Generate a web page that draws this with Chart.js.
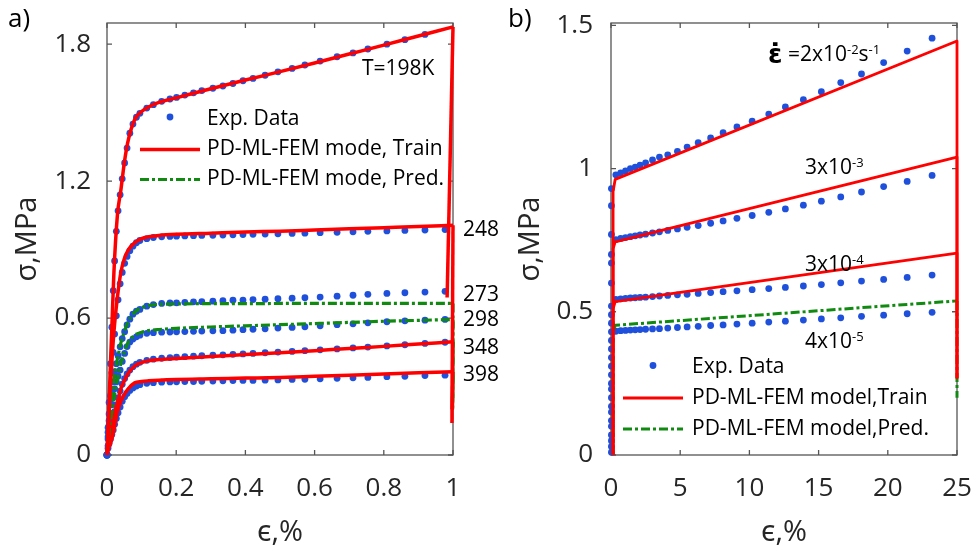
<!DOCTYPE html>
<html><head><meta charset="utf-8">
<script src="https://cdn.jsdelivr.net/npm/chart.js@4.4.1/dist/chart.umd.min.js"></script>
<style>
html,body{margin:0;padding:0;background:#fff;}
#wrap{position:relative;width:972px;height:551px;overflow:hidden;background:#fff;}
#wrap canvas{position:absolute;top:0;}
</style></head><body>
<div id="wrap">
<canvas id="cL" width="520" height="551" style="left:0;width:520px;height:551px"></canvas>
<canvas id="cR" width="486" height="551" style="left:486px;width:486px;height:551px"></canvas>
</div>
<script>
// ================= Panel a) : temperature series =================
const tempLabels = ['T=198K', '248', '273', '298', '348', '398'];
const leftExpX = [0, 0.003, 0.006, 0.01, 0.014, 0.018, 0.022, 0.027, 0.032, 0.038, 0.044, 0.051, 0.058, 0.066, 0.075, 0.085, 0.095, 0.115, 0.134, 0.158, 0.182, 0.201, 0.225, 0.25, 0.274, 0.306, 0.335, 0.364, 0.393, 0.422, 0.457, 0.494, 0.535, 0.572, 0.616, 0.665, 0.711, 0.754, 0.809, 0.861, 0.919, 0.977];
const exp198 = [0, 0.1, 0.23, 0.4, 0.56, 0.72, 0.85, 0.98, 1.07, 1.14, 1.21, 1.28, 1.345, 1.41, 1.45, 1.48, 1.497, 1.52, 1.535, 1.55, 1.56, 1.567, 1.577, 1.587, 1.597, 1.607, 1.617, 1.628, 1.64, 1.65, 1.664, 1.679, 1.694, 1.709, 1.726, 1.745, 1.762, 1.779, 1.8, 1.82, 1.843, null];
const exp248 = [0, 0.07, 0.15, 0.26, 0.36, 0.45, 0.53, 0.61, 0.68, 0.75, 0.8, 0.84, 0.87, 0.895, 0.915, 0.93, 0.94, 0.948, 0.953, 0.956, 0.958, 0.959, 0.96, 0.961, 0.962, 0.963, 0.964, 0.965, 0.966, 0.967, 0.968, 0.969, 0.971, 0.972, 0.974, 0.976, 0.978, 0.98, 0.982, 0.984, 0.986, 0.988];
const exp273 = [0, 0.12, 0.18, 0.23, 0.27, 0.32, 0.365, 0.4, 0.435, 0.474, 0.51, 0.54, 0.57, 0.595, 0.617, 0.63, 0.638, 0.652, 0.659, 0.664, 0.666, 0.667, 0.669, 0.671, 0.672, 0.674, 0.676, 0.678, 0.679, 0.681, 0.683, 0.685, 0.687, 0.689, 0.692, 0.696, 0.7, 0.704, 0.708, 0.711, 0.714, 0.717];
const exp298 = [0, 0.08, 0.13, 0.18, 0.22, 0.26, 0.29, 0.32, 0.345, 0.372, 0.41, 0.445, 0.475, 0.495, 0.508, 0.518, 0.525, 0.533, 0.536, 0.538, 0.539, 0.54, 0.541, 0.542, 0.543, 0.544, 0.545, 0.547, 0.549, 0.551, 0.553, 0.556, 0.559, 0.562, 0.566, 0.571, 0.575, 0.579, 0.584, 0.588, 0.591, 0.594];
const exp348 = [0, 0.04, 0.07, 0.1, 0.13, 0.16, 0.19, 0.22, 0.25, 0.28, 0.31, 0.335, 0.355, 0.372, 0.387, 0.398, 0.406, 0.415, 0.42, 0.424, 0.427, 0.429, 0.431, 0.433, 0.435, 0.437, 0.439, 0.441, 0.443, 0.445, 0.448, 0.451, 0.454, 0.457, 0.461, 0.465, 0.469, 0.473, 0.478, 0.483, 0.489, 0.494];
const exp398 = [0, 0.03, 0.05, 0.07, 0.09, 0.11, 0.135, 0.16, 0.185, 0.21, 0.235, 0.255, 0.27, 0.283, 0.294, 0.302, 0.308, 0.314, 0.317, 0.319, 0.32, 0.321, 0.322, 0.322, 0.323, 0.324, 0.325, 0.326, 0.327, 0.327, 0.328, 0.329, 0.331, 0.332, 0.334, 0.336, 0.338, 0.34, 0.343, 0.345, 0.348, 0.35];

const modelX = [0, 0.005, 0.01, 0.015, 0.02, 0.03, 0.04, 0.05, 0.06, 0.08, 0.1, 0.12, 0.15, 0.2, 0.3, 0.4, 0.5, 0.6, 0.7, 0.8, 0.9, 1.0];
const train198 = [0, 0.2, 0.4, 0.6, 0.8, 1.05, 1.16, 1.28, 1.37, 1.47, 1.505, 1.525, 1.545, 1.565, 1.605, 1.643, 1.68, 1.718, 1.757, 1.796, 1.836, 1.876];
const train248 = [0, 0.15, 0.3, 0.43, 0.54, 0.69, 0.8, 0.86, 0.895, 0.93, 0.948, 0.956, 0.962, 0.967, 0.972, 0.977, 0.981, 0.986, 0.991, 0.996, 1.001, 1.007];
const pred273  = [0, 0.12, 0.2, 0.27, 0.33, 0.42, 0.49, 0.54, 0.58, 0.625, 0.645, 0.655, 0.66, 0.662, 0.663, 0.663, 0.664, 0.664, 0.664, 0.664, 0.664, 0.664];
const pred298  = [0, 0.09, 0.15, 0.2, 0.25, 0.33, 0.4, 0.45, 0.49, 0.525, 0.538, 0.545, 0.55, 0.555, 0.561, 0.566, 0.571, 0.576, 0.581, 0.586, 0.59, 0.594];
const train348 = [0, 0.06, 0.1, 0.14, 0.175, 0.23, 0.29, 0.325, 0.355, 0.39, 0.405, 0.413, 0.418, 0.423, 0.432, 0.44, 0.448, 0.457, 0.467, 0.476, 0.486, 0.496];
const train398 = [0, 0.03, 0.05, 0.075, 0.11, 0.19, 0.235, 0.265, 0.288, 0.316, 0.322, 0.325, 0.328, 0.331, 0.334, 0.337, 0.34, 0.345, 0.35, 0.355, 0.36, 0.365];
// unloading end points (order: 198, 248, 273, 298, 348, 398)
const unloadX = [0.983, 0.997, 0.999, 0.999, 0.998, 0.998];
const unloadY = [0.69, 0.14, 0.2, 0.25, 0.2, 0.2];
const leftXTicks = [0, 0.2, 0.4, 0.6, 0.8, 1];
const leftYTicks = [0, 0.6, 1.2, 1.8];
const leftLegend = ['Exp. Data', 'PD-ML-FEM mode, Train', 'PD-ML-FEM mode, Pred.'];

// ================= Panel b) : strain-rate series =================
const rightExpX = [0.35, 0.7, 1.05, 1.4, 1.75, 2.1, 2.5, 3.0, 3.5, 4.1, 4.8, 5.5, 6.3, 7.2, 8.1, 9.1, 10.2, 11.4, 12.6, 13.9, 15.2, 16.6, 18.1, 19.7, 21.4, 23.2];
const expRate2e2 = [0.978, 0.985, 0.992, 1.0, 1.005, 1.012, 1.02, 1.03, 1.04, 1.048, 1.06, 1.075, 1.09, 1.107, 1.125, 1.145, 1.165, 1.19, 1.215, 1.24, 1.268, 1.3, 1.33, 1.37, 1.41, 1.455];
const expRate3e3 = [0.752, 0.756, 0.759, 0.762, 0.765, 0.768, 0.771, 0.775, 0.779, 0.784, 0.789, 0.795, 0.801, 0.809, 0.817, 0.826, 0.836, 0.847, 0.859, 0.872, 0.886, 0.901, 0.918, 0.937, 0.955, 0.976];
const expRate3e4 = [0.543, 0.545, 0.547, 0.548, 0.549, 0.55, 0.551, 0.553, 0.555, 0.557, 0.559, 0.561, 0.564, 0.567, 0.57, 0.573, 0.577, 0.581, 0.585, 0.59, 0.595, 0.601, 0.607, 0.613, 0.62, 0.628];
const expRate4e5 = [0.432, 0.434, 0.435, 0.436, 0.437, 0.438, 0.439, 0.44, 0.441, 0.443, 0.445, 0.447, 0.449, 0.452, 0.454, 0.457, 0.46, 0.464, 0.467, 0.471, 0.475, 0.479, 0.484, 0.488, 0.493, 0.498];
const elasticStrain = [0.03];
const elasticStress = [0.01, 0.03, 0.05, 0.07, 0.1, 0.12, 0.15, 0.17, 0.2, 0.23, 0.25, 0.28, 0.31, 0.34, 0.37, 0.4, 0.43, 0.46, 0.49, 0.52, 0.6, 0.67, 0.7, 0.77, 0.87, 0.93];
const rightModelX = [0.15, 0.15, 0.3, 25];
const trainRate2e2 = [0, 0.92, 0.962, 1.445];
const trainRate3e3 = [0, 0.72, 0.744, 1.04];
const trainRate3e4 = [0, 0.51, 0.535, 0.705];
const predRate4e5  = [0, 0.43, 0.453, 0.538];
const rightUnloadY = [0.27, 0.27, 0.27, 0.2];
const rightXTicks = [0, 5, 10, 15, 20, 25];
const rightYTicks = [0, 0.5, 1, 1.5];
const rightLegend = ['Exp. Data', 'PD-ML-FEM model,Train', 'PD-ML-FEM model,Pred.'];
const rateText = [['\u03B5\u0307', ' =2x10', '-2', 's', '-1'], ['3x10', '-3'], ['3x10', '-4'], ['4x10', '-5']];

// ================= styles =================
const BLUE = '#1f50dc', RED = '#ff0000', GREEN = '#108a10', AXC = '#262626';
const FONT = '"Open Sans", "Noto Sans", sans-serif';
const DASHDOT = [9, 3, 3, 3];

const pts = (xs, ys) => xs.map((x, i) => ({x: x, y: ys[i]})).filter(p => p.y !== null && p.y !== undefined);

function expSet(data) {
  return {data, showLine: false, pointRadius: 3.4, pointHoverRadius: 3.4, pointStyle: 'circle',
    pointBackgroundColor: BLUE, pointBorderWidth: 0, order: 2, clip: 8};
}
function lineSet(data, color, width, dash, smooth) {
  return {data, showLine: true, pointRadius: 0, pointHoverRadius: 0, borderColor: color, borderWidth: width,
    borderDash: dash || [], cubicInterpolationMode: smooth ? 'monotone' : 'default', tension: 0,
    order: 1, clip: 8, fill: false, borderCapStyle: 'butt', borderJoinStyle: 'round'};
}

const boxPlugin = {
  id: 'boxTicks',
  beforeDatasetsDraw(chart) {
    const {ctx, chartArea: a, scales: {x, y}} = chart;
    ctx.save();
    ctx.strokeStyle = '#555555';
    ctx.lineWidth = 1.3;
    ctx.strokeRect(a.left, a.top, a.right - a.left, a.bottom - a.top);
    const L = 5;
    ctx.beginPath();
    x.ticks.forEach(t => { const p = x.getPixelForValue(t.value);
      ctx.moveTo(p, a.bottom); ctx.lineTo(p, a.bottom - L); ctx.moveTo(p, a.top); ctx.lineTo(p, a.top + L); });
    y.ticks.forEach(t => { const p = y.getPixelForValue(t.value);
      ctx.moveTo(a.left, p); ctx.lineTo(a.left + L, p); ctx.moveTo(a.right, p); ctx.lineTo(a.right - L, p); });
    ctx.stroke();
    ctx.restore();
  }
};

function legendPlugin(labels, rows, x0, x1, tx, lineW, dashW) {
  return {
    id: 'customLegend',
    afterDatasetsDraw(chart) {
      const ctx = chart.ctx;
      ctx.save();
      ctx.fillStyle = BLUE;
      ctx.beginPath(); ctx.arc((x0 + x1) / 2, rows[0] - 2, 3.4, 0, Math.PI * 2); ctx.fill();
      ctx.lineCap = 'butt';
      ctx.strokeStyle = RED; ctx.lineWidth = lineW; ctx.setLineDash([]);
      ctx.beginPath(); ctx.moveTo(x0, rows[1]); ctx.lineTo(x1, rows[1]); ctx.stroke();
      ctx.strokeStyle = GREEN; ctx.lineWidth = dashW; ctx.setLineDash(DASHDOT);
      ctx.beginPath(); ctx.moveTo(x0, rows[2]); ctx.lineTo(x1, rows[2]); ctx.stroke();
      ctx.setLineDash([]);
      ctx.fillStyle = '#000';
      ctx.font = '21px ' + FONT;
      ctx.textAlign = 'left'; ctx.textBaseline = 'middle';
      labels.forEach((t, i) => ctx.fillText(t, tx, rows[i]));
      ctx.restore();
    }
  };
}

function textPlugin(drawFn) {
  return {id: 'notes', afterDraw(chart) { const ctx = chart.ctx; ctx.save(); drawFn(ctx); ctx.restore(); }};
}

function scaleOpts(p) {
  return {
    x: {type: 'linear', min: p.xMin, max: p.xMax,
      afterBuildTicks: s => { s.ticks = p.xTicks.map(v => ({value: v})); },
      afterFit: s => { s.height = 96; s.paddingLeft = 0; s.paddingRight = 0; },
      grid: {display: false, drawTicks: false}, border: {display: false},
      ticks: {padding: 18.4, color: AXC, font: {family: FONT, size: 26}, maxRotation: 0, autoSkip: false, callback: v => String(v)},
      title: {display: true, text: '\u03F5,%', color: AXC, font: {family: FONT, size: 29}, padding: {top: 0, bottom: 0.6}}},
    y: {type: 'linear', min: p.yMin, max: p.yMax,
      afterBuildTicks: s => { s.ticks = p.yTicks.map(v => ({value: v})); },
      afterFit: s => { s.width = p.yWidth; s.paddingTop = 0; s.paddingBottom = 0; },
      grid: {display: false, drawTicks: false}, border: {display: false},
      ticks: {padding: p.yPad, color: AXC, font: {family: FONT, size: 26}, autoSkip: false, callback: v => String(v)},
      title: {display: true, text: '\u03C3,MPa', color: AXC, font: {family: FONT, size: 29}, padding: {top: p.yTitlePad, bottom: 0}}}
  };
}

function build() {
  // ---------- panel a ----------
  const expL = [exp198, exp248, exp273, exp298, exp348, exp398];
  const modelL = [train198, train248, pred273, pred298, train348, train398];
  const isPred = [false, false, true, true, false, false];
  const dsL = [];
  expL.forEach(ys => dsL.push(expSet(pts(leftExpX, ys))));
  modelL.forEach((ys, i) => {
    const col = isPred[i] ? GREEN : RED, w = isPred[i] ? 3.2 : 3.5, d = isPred[i] ? DASHDOT : [];
    dsL.push(lineSet(pts(modelX, ys), col, w, d, true));
    const last = modelX.length - 1;
    dsL.push(lineSet(pts([modelX[last], unloadX[i]], [ys[last], unloadY[i]]), col, w, d, false));
  });

  new Chart(document.getElementById('cL'), {
    type: 'line',
    data: {datasets: dsL},
    options: {responsive: false, animation: false, devicePixelRatio: 1, events: [],
      layout: {padding: {left: 0, right: 67, top: 23, bottom: 0}},
      plugins: {legend: {display: false}, tooltip: {enabled: false}},
      scales: scaleOpts({xMin: 0, xMax: 1, xTicks: leftXTicks, yMin: 0, yMax: 1.893, yTicks: leftYTicks, yWidth: 107, yPad: 16, yTitlePad: 10.6})},
    plugins: [boxPlugin, legendPlugin(leftLegend, [119, 149.5, 179.5], 140, 200, 207, 3.5, 3.2),
      textPlugin(ctx => {
        ctx.fillStyle = '#000'; ctx.textAlign = 'left'; ctx.textBaseline = 'middle';
        ctx.font = '21px ' + FONT;
        const pos = [[362, 69], [463, 230], [463, 295], [463, 320], [463, 348.5], [463, 375.5]];
        tempLabels.forEach((t, i) => ctx.fillText(t, pos[i][0], pos[i][1]));
        ctx.font = '26px ' + FONT;
        ctx.fillText('a)', 8, 20);
      })]
  });

  // ---------- panel b ----------
  const expR = [expRate2e2, expRate3e3, expRate3e4, expRate4e5];
  const modelR = [trainRate2e2, trainRate3e3, trainRate3e4, predRate4e5];
  const isPredR = [false, false, false, true];
  const dsR = [];
  dsR.push(expSet(elasticStress.map(v => ({x: elasticStrain[0], y: v}))));
  expR.forEach(ys => dsR.push(expSet(pts(rightExpX, ys))));
  modelR.forEach((ys, i) => {
    const col = isPredR[i] ? GREEN : RED, w = isPredR[i] ? 3 : 2.8, d = isPredR[i] ? DASHDOT : [];
    const last = rightModelX.length - 1;
    dsR.push(lineSet(pts(rightModelX, ys), col, w, d, false));
    dsR.push(lineSet(pts([rightModelX[last], rightModelX[last]], [ys[last], rightUnloadY[i]]), col, w, d, false));
  });

  new Chart(document.getElementById('cR'), {
    type: 'line',
    data: {datasets: dsR},
    options: {responsive: false, animation: false, devicePixelRatio: 1, events: [],
      layout: {padding: {left: 0, right: 15, top: 23, bottom: 0}},
      plugins: {legend: {display: false}, tooltip: {enabled: false}},
      scales: scaleOpts({xMin: 0, xMax: 25, xTicks: rightXTicks, yMin: 0, yMax: 1.508, yTicks: rightYTicks, yWidth: 125, yPad: 18, yTitlePad: 27.6})},
    plugins: [boxPlugin, legendPlugin(rightLegend, [367.5, 398, 429], 137, 197, 206, 2.8, 3),
      textPlugin(ctx => {
        ctx.fillStyle = '#000'; ctx.textAlign = 'left'; ctx.textBaseline = 'middle';
        const base = '21px ' + FONT, sup = '13px ' + FONT, eps = 'bold 26px "DejaVu Sans", sans-serif';
        const pos = [[282, 55], [319, 168], [319, 265], [319, 342]];
        rateText.forEach((parts, k) => {
          let cx = pos[k][0];
          parts.forEach((t, j) => {
            let f = base, dy = 0;
            if (k === 0 && j === 0) { f = eps; dy = 1; }
            else if (t.startsWith('-')) { f = sup; dy = -5; }
            ctx.font = f;
            ctx.fillText(t, cx, pos[k][1] + dy);
            cx += ctx.measureText(t).width;
          });
        });
        ctx.font = '26px ' + FONT;
        ctx.fillText('b)', 22, 20);
      })]
  });
}

if (document.fonts && document.fonts.load) {
  Promise.all([document.fonts.load('26px "Open Sans"'), document.fonts.load('24px "DejaVu Sans"')])
    .then(build, build);
} else { build(); }
</script>
</body></html>
